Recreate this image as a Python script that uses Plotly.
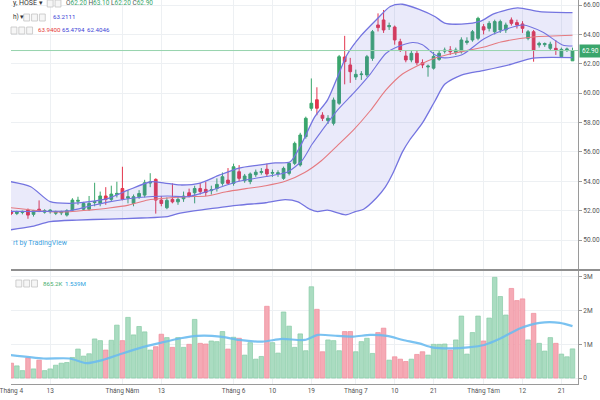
import plotly.graph_objects as go

# ---------------- data ----------------
opens = [51.93, 51.81, 51.88, 52.04, 51.75, 52.10, 51.90, 51.93, 51.82, 51.85,
         51.70, 52.04, 52.64, 52.10, 52.10, 52.55, 52.49, 53.00, 52.77, 53.10,
         53.51, 52.85, 52.49, 52.95, 53.06, 53.88, 54.13, 52.72, 52.20, 52.77,
         52.60, 52.81, 53.22, 53.22, 53.51, 53.45, 53.36, 53.51, 53.86, 54.08,
         53.86, 54.65, 54.04, 53.98, 54.45, 54.60, 54.82, 54.55, 54.50, 54.20,
         54.54, 55.22, 55.11, 57.04, 58.97, 59.55, 58.50, 58.13, 57.95, 59.31,
         62.46, 61.92, 61.10, 61.26, 61.24, 62.37, 64.64, 64.98, 64.52, 64.50,
         63.50, 62.53, 62.26, 62.71, 62.07, 61.78, 61.70, 62.30, 62.86, 62.94,
         62.76, 62.82, 63.45, 63.62, 63.73, 64.52, 64.41, 64.18, 64.30, 64.30,
         64.98, 64.80, 64.71, 63.73, 64.18, 63.28, 63.30, 63.05, 63.05, 62.48,
         62.95, 62.20]
highs = [52.05, 52.00, 52.00, 52.15, 52.05, 52.70, 52.10, 52.10, 52.00, 52.00,
         52.10, 52.85, 52.95, 52.60, 53.00, 53.90, 53.30, 53.60, 53.70, 53.97,
         54.99, 53.40, 53.10, 53.40, 54.10, 54.55, 54.20, 53.00, 52.90, 53.86,
         53.00, 53.30, 53.50, 53.70, 53.90, 53.95, 53.70, 54.20, 54.60, 54.90,
         55.20, 55.10, 54.50, 54.60, 54.80, 54.90, 55.20, 54.80, 54.75, 55.00,
         55.30, 56.70, 57.30, 58.40, 61.00, 60.40, 58.70, 58.50, 59.70, 62.60,
         63.90, 62.40, 61.60, 61.50, 62.60, 64.30, 65.43, 65.66, 64.80, 64.60,
         63.70, 62.90, 62.90, 62.90, 62.30, 61.95, 62.80, 62.90, 63.10, 63.20,
         63.10, 63.80, 63.80, 64.30, 65.20, 64.70, 64.90, 65.00, 65.00, 64.80,
         65.15, 65.00, 64.90, 64.30, 64.30, 63.50, 63.45, 63.50, 63.60, 63.10,
         63.10, 63.10]
lows = [51.70, 51.70, 51.75, 51.45, 51.60, 51.90, 51.80, 51.80, 51.70, 51.70,
        51.60, 51.95, 52.40, 52.00, 52.00, 52.30, 52.30, 52.40, 52.60, 52.90,
        52.70, 52.50, 52.30, 52.80, 52.90, 53.60, 51.80, 52.30, 52.10, 52.50,
        52.40, 52.60, 52.90, 52.50, 53.10, 53.00, 53.10, 53.30, 53.70, 53.80,
        53.70, 54.00, 53.90, 53.80, 54.30, 54.45, 54.30, 54.30, 54.30, 54.10,
        54.40, 55.10, 55.00, 56.90, 58.80, 58.50, 58.10, 57.90, 57.80, 59.20,
        60.60, 60.70, 60.90, 60.90, 61.10, 62.20, 64.20, 64.10, 64.30, 63.30,
        62.80, 62.10, 62.10, 61.90, 61.70, 61.12, 61.60, 62.20, 62.70, 62.60,
        62.60, 62.70, 63.30, 63.50, 63.60, 64.00, 64.20, 64.00, 64.10, 64.10,
        64.60, 64.40, 64.10, 63.60, 62.14, 63.10, 63.15, 62.90, 62.60, 62.40,
        62.80, 62.20]
closes = [51.81, 51.93, 51.95, 51.70, 52.00, 51.97, 52.00, 52.04, 51.93, 51.93,
          52.00, 52.72, 52.70, 52.49, 52.49, 52.62, 53.00, 52.77, 53.13, 53.18,
          52.77, 52.95, 52.95, 53.17, 53.90, 53.95, 52.72, 52.49, 52.70, 52.60,
          52.77, 52.99, 52.99, 53.51, 53.31, 53.24, 53.42, 53.79, 54.31, 53.86,
          54.99, 54.20, 54.36, 54.50, 54.62, 54.66, 54.50, 54.60, 54.58, 54.88,
          55.22, 56.58, 57.15, 58.29, 59.31, 58.97, 58.29, 58.29, 59.53, 62.48,
          62.14, 61.46, 61.28, 61.30, 62.48, 64.18, 64.46, 64.30, 64.60, 63.62,
          62.94, 62.26, 62.71, 62.07, 61.92, 61.84, 62.50, 62.71, 62.92, 62.82,
          62.94, 63.62, 63.55, 64.18, 65.09, 64.30, 64.75, 64.87, 64.87, 64.64,
          64.75, 64.64, 64.41, 64.18, 62.94, 63.39, 63.38, 63.33, 62.94, 62.98,
          63.00, 62.90]
volume_m = [0.44, 0.36, 0.22, 0.60, 0.27, 0.53, 0.22, 0.27, 0.38, 0.44,
            0.46, 0.61, 0.86, 0.65, 0.72, 1.16, 1.11, 0.83, 1.12, 1.57,
            1.11, 1.80, 1.28, 1.53, 1.37, 0.83, 0.93, 1.30, 1.20, 0.91,
            1.20, 0.91, 1.00, 1.74, 1.03, 1.01, 1.10, 1.08, 1.38, 0.86,
            1.21, 1.18, 0.68, 1.05, 0.56, 0.64, 2.13, 1.05, 0.74, 1.96,
            1.54, 0.91, 1.31, 0.81, 2.71, 2.04, 0.78, 1.13, 1.11, 0.81,
            1.38, 1.38, 0.78, 1.08, 1.18, 0.73, 1.35, 1.48, 0.53, 0.63,
            0.56, 0.49, 0.56, 0.70, 0.78, 0.68, 1.00, 1.00, 1.01, 0.83,
            1.13, 1.84, 0.71, 1.35, 1.84, 1.10, 1.78, 2.99, 2.42, 1.87,
            2.66, 2.30, 2.35, 1.13, 1.92, 1.03, 0.80, 1.20, 1.03, 0.71,
            0.63, 0.865]

tick_idx = [0, 7, 20, 27, 40, 47, 54, 62, 69, 76, 85, 92, 99]
tick_text = ["Tháng 4", "13", "Tháng Năm", "13", "Tháng 6", "10", "19",
             "Tháng 7", "10", "21", "Tháng Tám", "12", "21"]
price_ticks = [50, 52, 54, 56, 58, 60, 62, 64, 66]
price_tick_text = ["50.00", "52.00", "54.00", "56.00", "58.00", "60.00",
                   "62.00", "64.00", "66.00"]
vol_ticks = [0, 1, 2, 3]
vol_tick_text = ["0", "1M", "2M", "3M"]

# indicator curves read at sample bars (bar index, value)
upper_x = [-0.1, 3.5, 7.0, 10.5, 14.0, 17.6, 21.1, 25.2, 27.6, 30.4, 34.0, 37.5,
           41.0, 44.5, 47.5, 50.2, 52.3, 54.6, 56.9, 58.6, 60.4, 62.9, 65.7,
           68.2, 70.4, 73.4, 76.3, 78.0, 81.0, 84.5, 86.8, 91.1, 95.1, 101]
upper_v = [53.97, 53.63, 52.61, 52.50, 52.61, 52.86, 53.41, 53.97, 53.88, 53.75,
           53.88, 54.43, 54.90, 55.10, 55.25, 55.33, 56.60, 58.38, 59.53, 61.00,
           62.60, 63.90, 65.00, 65.90, 66.05, 65.70, 65.20, 64.77, 64.70, 64.90,
           65.40, 65.80, 65.55, 65.48]
lower_x = [-0.1, 3.5, 7.0, 11.8, 17.6, 23.4, 28.1, 30.4, 35.2, 41.0, 45.8, 49.3,
           51.6, 53.7, 55.1, 56.9, 60.2, 62.0, 63.4, 65.7, 67.3, 68.7, 70.4,
           71.7, 74.0, 76.3, 78.0, 81.0, 85.1, 89.8, 93.9, 101]
lower_v = [50.70, 50.91, 51.25, 51.36, 51.43, 51.50, 51.59, 51.84, 52.10, 52.38,
           52.54, 52.75, 52.60, 52.10, 51.93, 52.04, 51.72, 51.95, 52.10, 52.86,
           53.60, 54.56, 56.00, 56.81, 57.97, 59.50, 60.60, 61.23, 61.55, 61.95,
           62.39, 62.42]
basis_x = [-0.1, 7.0, 10.5, 14.0, 17.6, 21.1, 24.6, 28.1, 31.7, 35.2, 38.7, 42.2,
           45.8, 49.3, 52.8, 55.8, 58.6, 61.6, 64.6, 67.4, 70.4, 73.4, 76.3,
           79.8, 85.1, 88.1, 93.9, 101]
basis_v = [52.20, 51.93, 51.93, 52.04, 52.18, 52.38, 52.73, 52.86, 52.95, 53.00,
           53.29, 53.50, 53.70, 54.00, 54.60, 55.40, 56.40, 57.50, 58.80, 60.20,
           61.30, 61.92, 62.39, 62.73, 63.14, 63.48, 63.82, 63.94]
ma_x = [-0.1, 5.2, 10.5, 14.0, 17.6, 22.9, 28.1, 31.7, 35.2, 41.0, 47.0, 49.8,
        52.3, 54.1, 55.8, 58.6, 61.6, 64.6, 67.4, 69.2, 72.2, 74.0, 76.3, 78.0,
        81.0, 82.3, 85.1, 88.6, 92.1, 95.6, 99.2, 101]
ma_v = [51.95, 51.95, 52.00, 52.30, 52.60, 52.90, 53.00, 52.95, 53.30, 54.00,
        54.40, 54.65, 55.40, 56.50, 57.40, 58.80, 60.00, 61.30, 62.70, 63.10,
        63.45, 63.30, 62.60, 62.40, 62.60, 62.90, 63.70, 64.30, 64.64, 64.16,
        63.28, 63.21]
vma_x = [-0.1, 5.8, 10.5, 13.5, 16.4, 20.0, 23.5, 27.0, 30.5, 33.4, 37.6, 41.0,
         45.2, 48.7, 52.8, 55.2, 58.7, 61.6, 64.6, 67.6, 70.5, 73.4, 75.7, 79.3,
         82.2, 85.1, 88.1, 91.6, 95.1, 98.7, 101]
vma_v = [0.68, 0.58, 0.58, 0.44, 0.53, 0.73, 0.91, 1.05, 1.18, 1.25, 1.23, 1.13,
         1.08, 1.16, 1.13, 1.28, 1.25, 1.23, 1.28, 1.25, 1.13, 1.03, 0.91, 0.88,
         0.91, 0.98, 1.18, 1.48, 1.64, 1.64, 1.54]

# ---------------- style ----------------
GREEN = "#3aa66c"
RED = "#e4364e"
BAND = "#7474e0"
FILL = "rgba(95,95,215,0.13)"
BASIS = "#e57a80"
VMA = "#6cbcf0"
GRID = "#edf0f3"
AXIS = "#9a9a9a"
TXT = "#555555"
FONT = "Roboto"

W, H = 600, 400
ML, MR, MT, MB = 0, 21, 0, 16
PW, PH = W - ML - MR, H - MT - MB


def px(x):
    return x / PW


def py(y):
    return (PH - y) / PH


n = len(opens)
idx = list(range(n))
up = [c >= o for o, c in zip(opens, closes)]
vol_fill = ["#aadcc1" if u else "#f5aab5" for u in up]
vol_line = ["#88cca6" if u else "#ef8d9b" for u in up]

fig = go.Figure()
spl = dict(shape="spline", smoothing=0.7)
fig.add_trace(go.Scatter(x=lower_x, y=lower_v, mode="lines",
                         line=dict(color=BAND, width=1.3, **spl), hoverinfo="skip"))
fig.add_trace(go.Scatter(x=upper_x, y=upper_v, mode="lines", fill="tonexty",
                         fillcolor=FILL, line=dict(color=BAND, width=1.3, **spl),
                         hoverinfo="skip"))
fig.add_trace(go.Scatter(x=basis_x, y=basis_v, mode="lines",
                         line=dict(color=BASIS, width=1.1, **spl), hoverinfo="skip"))
fig.add_trace(go.Scatter(x=ma_x, y=ma_v, mode="lines",
                         line=dict(color=BAND, width=1.1, **spl), hoverinfo="skip"))
fig.add_trace(go.Candlestick(
    x=idx, open=opens, high=highs, low=lows, close=closes,
    increasing=dict(line=dict(color=GREEN, width=1), fillcolor=GREEN),
    decreasing=dict(line=dict(color=RED, width=1), fillcolor=RED),
    whiskerwidth=0, xaxis="x", yaxis="y"))
fig.add_trace(go.Bar(x=idx, y=volume_m, xaxis="x2", yaxis="y2", width=0.82,
                     marker=dict(color=vol_fill, line=dict(color=vol_line, width=0.7))))
fig.add_trace(go.Scatter(x=vma_x, y=vma_v, xaxis="x2", yaxis="y2", mode="lines",
                         line=dict(color=VMA, width=2.2, **spl), opacity=0.9,
                         hoverinfo="skip"))

xr = [-0.053, 101.99]
price_dom = [(PH - 269) / PH, 1]
vol_dom = [0, (PH - 271) / PH]

fig.update_layout(
    width=W, height=H, margin=dict(l=ML, r=MR, t=MT, b=MB),
    paper_bgcolor="white", plot_bgcolor="white", showlegend=False,
    font=dict(family=FONT, size=7, color=TXT),
    bargap=0.15,
    xaxis=dict(domain=[0, 1], range=xr, anchor="y", showticklabels=False,
               tickvals=tick_idx, showgrid=True, gridcolor=GRID, gridwidth=1,
               zeroline=False, rangeslider=dict(visible=False), ticks=""),
    xaxis2=dict(domain=[0, 1], range=xr, anchor="y2", matches="x",
                tickvals=tick_idx, ticktext=tick_text, showgrid=True,
                gridcolor=GRID, zeroline=False, ticks="", showline=True,
                linecolor=AXIS, linewidth=1, ticklabeloverflow="allow",
                tickfont=dict(family=FONT, size=6.5, color=TXT)),
    yaxis=dict(domain=price_dom, range=[48.03, 66.34], side="right",
               tickvals=price_ticks, ticktext=price_tick_text, showgrid=True,
               gridcolor=GRID, zeroline=False, showline=True, linecolor=AXIS,
               ticks="outside", ticklen=3, tickcolor=AXIS,
               tickfont=dict(family=FONT, size=6.5, color=TXT)),
    yaxis2=dict(domain=vol_dom, range=[-0.178, 3.178], side="right",
                tickvals=vol_ticks, ticktext=vol_tick_text, showgrid=True,
                gridcolor=GRID, zeroline=False, showline=True, linecolor=AXIS,
                ticks="outside", ticklen=3, tickcolor=AXIS,
                tickfont=dict(family=FONT, size=6.5, color=TXT)),
)

shapes = []
# last price line
shapes.append(dict(type="line", xref="paper", x0=0, x1=1, yref="y",
                   y0=closes[-1], y1=closes[-1],
                   line=dict(color="#96d3ad", width=1)))
# pane separator
shapes.append(dict(type="line", xref="paper", x0=0, x1=1.04, yref="paper",
                   y0=py(270), y1=py(270), line=dict(color="#8f8f8f", width=2)))


def icon(x, y):
    shapes.append(dict(type="rect", xref="paper", yref="paper",
                       x0=px(x), x1=px(x + 6), y0=py(y + 7), y1=py(y),
                       line=dict(color="#c4c4c4", width=0.8), fillcolor="#f6f6f6"))


for x in (37, 45):
    icon(x, 0)
for x in (13, 21, 29):
    icon(x, 14)
for x in (0, 8, 16):
    icon(x, 27)
for x in (5, 13, 21):
    icon(x, 280)
fig.update_layout(shapes=shapes)

ann = []


def text(x, y, t, color=TXT, size=6.5):
    ann.append(dict(xref="paper", yref="paper", x=px(x), y=py(y), text=t,
                    showarrow=False, xanchor="left", yanchor="middle",
                    font=dict(family=FONT, size=size, color=color)))


g = "#3aa66c"
text(0, 3, "y, HOSE ▾", "#333333", 7)
text(54, 3, f"O<span style='color:{g}'>{opens[-1]:.2f}</span> "
            f"H<span style='color:{g}'>{highs[-1]:.2f}</span> "
            f"L<span style='color:{g}'>{lows[-1]:.2f}</span> "
            f"C<span style='color:{g}'>{closes[-1]:.2f}</span>", "#555555", 6.5)
text(0, 17, "h) ▾", "#333333", 6.5)
text(41, 17, f"{ma_v[-1] + 0.0011:.4f}", "#3b43d6", 6.2)
text(26, 30, "63.9400", "#e53935", 6.2)
text(50, 30, "65.4794", "#3b43d6", 6.2)
text(76, 30, "62.4046", "#3b43d6", 6.2)
text(31, 284, "865.2K", "#4caf70", 6.2)
text(53, 284, "1.539M", "#2a9fe0", 6.2)
text(0, 243, "rt by TradingView", "#3d9fe0", 7)
# last price label on the axis
ann.append(dict(xref="paper", yref="y", x=1, y=closes[-1], xshift=1,
                text=f"{closes[-1]:.2f}", showarrow=False, xanchor="left",
                yanchor="middle", bgcolor=GREEN, borderpad=2,
                font=dict(family=FONT, size=6.5, color="white")))
fig.update_layout(annotations=ann)

fig.write_html("out.html")
